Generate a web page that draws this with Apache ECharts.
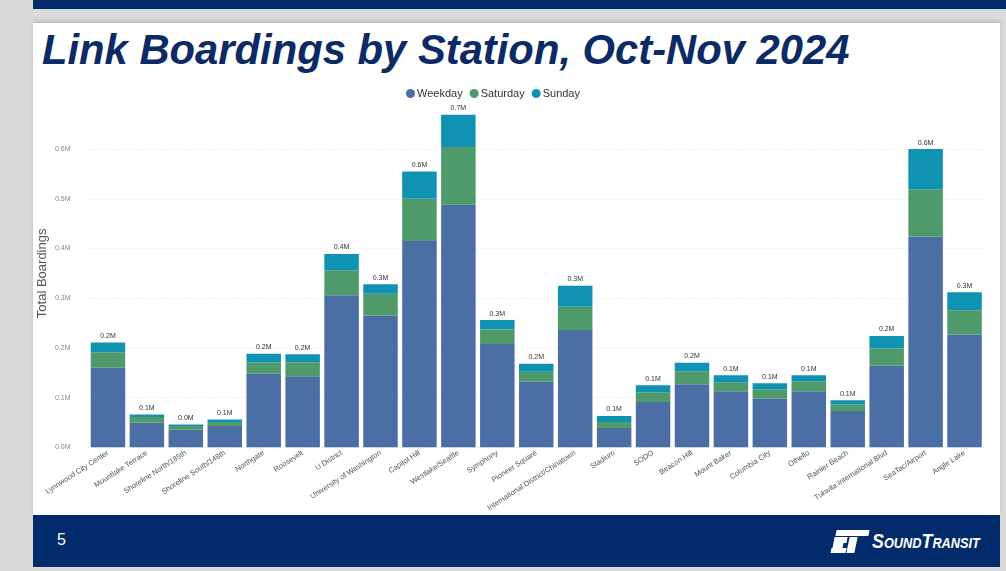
<!DOCTYPE html>
<html><head><meta charset="utf-8">
<script src="https://cdn.jsdelivr.net/npm/echarts@6/dist/echarts.min.js"></script>
<style>
html,body{margin:0;padding:0;width:1006px;height:571px;overflow:hidden;background:#dadada;font-family:'Liberation Sans',Arial,sans-serif;}
#topbar{position:absolute;left:33px;top:0;width:973px;height:9px;background:#032a6b;}
#slide{position:absolute;left:33px;top:23px;width:967px;height:492px;background:#fff;box-shadow:0 -2px 4px rgba(0,0,0,0.15);}
#footer{position:absolute;left:33px;top:515px;width:967px;height:52px;background:#022b6b;}
#pnum{position:absolute;left:57px;top:531px;color:#fff;font-size:16px;font-family:'Liberation Sans',Arial,sans-serif;}
#title{position:absolute;left:42px;top:24px;color:#0b2a66;font-family:'Liberation Sans',Arial,sans-serif;font-weight:bold;font-style:italic;font-size:43px;line-height:50px;white-space:nowrap;transform-origin:0 0;}
#logo{position:absolute;left:833px;top:528px;width:150px;height:26px;}
.lg{position:absolute;background:#fff;}
#logotext{position:absolute;left:39px;top:2px;color:#fff;font-family:'Liberation Sans',Arial,sans-serif;font-weight:bold;font-style:italic;white-space:nowrap;line-height:22px;transform-origin:0 0;}
#chart{position:absolute;left:0;top:0;width:1006px;height:571px;}
</style></head>
<body>
<div id="topbar"></div>
<div id="slide"></div>
<div id="footer"></div>
<div id="pnum">5</div>
<div id="title">Link Boardings by Station, Oct-Nov 2024</div>
<div id="logo">
  <div class="lg" style="left:3px;top:2px;width:33px;height:6px;transform:skewX(-12deg);"></div>
  <div class="lg" style="left:1px;top:9px;width:13px;height:6px;transform:skewX(-12deg);"></div>
  <div class="lg" style="left:0px;top:15px;width:10px;height:5px;transform:skewX(-12deg);"></div>
  <div class="lg" style="left:15px;top:9px;width:8px;height:16px;transform:skewX(-12deg);"></div>
  <div class="lg" style="left:-2px;top:20px;width:15px;height:5px;transform:skewX(-12deg);"></div>
  <div id="logotext"><span style="font-size:21px">S</span><span style="font-size:15px">OUND</span><span style="font-size:21px">T</span><span style="font-size:15px">RANSIT</span></div>
</div>
<div id="chart"></div>
<script>
const stations = ['Lynnwood City Center','Mountlake Terrace','Shoreline North/185th','Shoreline South/148th','Northgate','Roosevelt','U District','University of Washington','Capitol Hill','Westlake/Seattle','Symphony','Pioneer Square','International District/Chinatown','Stadium','SODO','Beacon Hill','Mount Baker','Columbia City','Othello','Rainier Beach','Tukwila International Blvd','SeaTac/Airport','Angle Lake'];
const weekday  = [160000, 50000, 36000, 43000, 148000, 143000, 306000, 265000, 415000, 488000, 208000, 132000, 236000, 39000, 91000, 127000, 113000, 98000, 113000, 73000, 164000, 424000, 227000];
const saturday = [31000, 11000, 7000, 8000, 23000, 28000, 50000, 44000, 85000, 116000, 29000, 20000, 47000, 12000, 20000, 26000, 18000, 19000, 20000, 13500, 35000, 95000, 49000];
const sunday   = [20000, 5000, 3000, 5000, 17000, 16000, 33000, 19000, 55000, 65000, 19000, 16000, 42000, 12000, 14000, 17000, 14000, 12000, 12000, 8000, 25000, 81000, 36000];
const seriesNames = ['Weekday','Saturday','Sunday'];
const yMax = 700000, yStep = 100000;

// fit condensed-looking texts to their widths in the reference
function fitWidth(id, w) {
  const el = document.getElementById(id);
  const s = w / el.scrollWidth;
  el.style.transform = 'scaleX(' + s + ')';
}
fitWidth('title', 808);
fitWidth('logotext', 108);

const colors = ['#4b6ea5','#4f9a6a','#1093b3'];
const chart = echarts.init(document.getElementById('chart'));
const fmtM = v => (v/1e6).toFixed(1) + 'M';
const gridColors = [];
for (let v = 0; v <= yMax; v += yStep) gridColors.push(v < yMax ? '#e4e4e4' : 'rgba(0,0,0,0)');

const mk = (name, data, i) => ({
  name, type: 'bar', stack: 'total', data, barWidth: 34.5,
  itemStyle: { color: colors[i] },
  emphasis: { disabled: true },
  label: i === 2 ? {
    show: true, position: 'top', distance: 3, fontSize: 7, color: '#333',
    fontFamily: 'Liberation Sans',
    formatter: p => fmtM(weekday[p.dataIndex] + saturday[p.dataIndex] + sunday[p.dataIndex])
  } : { show: false }
});

chart.setOption({
  animation: false,
  color: colors,
  legend: {
    data: seriesNames, left: 401, top: 83, icon: 'circle', itemWidth: 9, itemHeight: 9, itemGap: 7,
    textStyle: { fontSize: 11, color: '#333', fontFamily: 'Liberation Sans', padding: [0,0,0,-3] }
  },
  grid: { left: 88.5, right: 22, top: 99.4, bottom: 123.7, containLabel: false },
  xAxis: {
    type: 'category', data: stations,
    axisTick: { show: false }, axisLine: { show: false },
    axisLabel: { interval: 0, rotate: 33, fontSize: 7.5, color: '#555', margin: 5, fontFamily: 'Liberation Sans' }
  },
  yAxis: {
    type: 'value', min: 0, max: yMax, interval: yStep,
    name: 'Total Boardings', nameLocation: 'middle', nameGap: 40, nameRotate: 90,
    nameMoveOverlap: false,
    nameTextStyle: { fontSize: 13, color: '#555', fontFamily: 'Liberation Sans' },
    axisLabel: { fontSize: 7, color: '#888', margin: 18, fontFamily: 'Liberation Sans',
      formatter: v => v >= yMax ? '' : fmtM(v) },
    splitLine: { lineStyle: { color: gridColors, type: [1, 2], width: 1 } }
  },
  series: [mk('Weekday', weekday, 0), mk('Saturday', saturday, 1), mk('Sunday', sunday, 2)]
});
</script>
</body></html>
